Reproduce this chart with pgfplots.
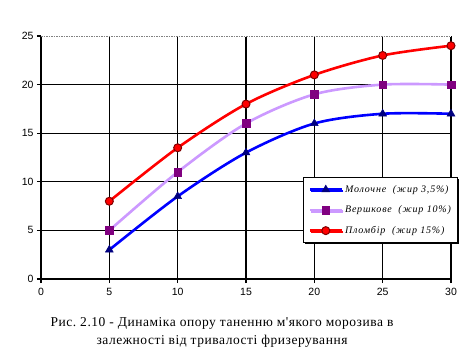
\documentclass[border=0pt]{standalone}
\usepackage{fontspec}
\setmainfont{Liberation Serif}
\newfontfamily\ticksfont{Liberation Sans}
\newfontfamily\legfont[LetterSpace=8]{Liberation Serif}
\newfontfamily\capfont[LetterSpace=4]{Liberation Serif}
\usepackage{pgfplots}
\pgfplotsset{compat=1.18}
\usetikzlibrary{shadows}
\definecolor{milkline}{RGB}{0,0,255}
\definecolor{milkmark}{RGB}{0,0,128}
\definecolor{crline}{RGB}{204,153,255}
\definecolor{crmark}{RGB}{128,0,128}
\definecolor{plline}{RGB}{255,0,0}
\definecolor{pledge}{RGB}{128,0,0}
\begin{document}
\begin{tikzpicture}[x=1pt,y=1pt]
\path[use as bounding box, fill=white] (0,0) rectangle (476,360);
\begin{axis}[
  at={(41pt,81pt)}, anchor=south west,
  scale only axis, width=410pt, height=243pt,
  xmin=0, xmax=30, ymin=0, ymax=25,
  xtick={0,5,...,30}, ytick={0,5,...,25},
  axis x line*=bottom, axis y line*=left,
  axis line style={black, line width=1.4pt, -},
  grid=major,
  major grid style={black, line width=1.3pt},
  tick align=outside, major tick length=4pt,
  tick style={black, line width=1.2pt},
  xtick pos=bottom, ytick pos=left,
  ticklabel style={font=\ticksfont\fontsize{10.5}{12}\selectfont},
  /pgf/number format/assume math mode=true,
  xticklabel style={yshift=-2pt},
  legend style={at={(0.639,0.42)}, anchor=north west, draw=black, line width=1pt,
    font=\legfont\itshape\fontsize{10}{12}\selectfont, row sep=8pt,
    inner xsep=5pt, inner ysep=6pt, drop shadow={shadow xshift=1.5pt, shadow yshift=-1.5pt, fill=black, opacity=1}, fill=white},
  legend cell align=left,
  legend image code/.code={
    \draw[#1, mark=none] (0pt,0pt) -- (32pt,0pt);
    \draw[#1, only marks] plot coordinates {(16pt,0pt)};
  },
  clip=false,
]
\draw[white, line width=1.2pt] (axis cs:0,25) -- (axis cs:30,25);
\draw[gray, dashed, line width=1pt, dash pattern=on 1.5pt off 1pt] (axis cs:0,25) -- (axis cs:30,25);
\addplot[milkline, line width=2.6pt, smooth, mark=triangle*, mark size=4.5pt,
  mark options={fill=milkmark, draw=milkmark, line width=0.5pt}]
  coordinates {(5,3) (10,8.5) (15,13) (20,16) (25,17) (30,17)};
\addlegendentry{Молочне\ \ (жир 3,5\%)}
\addplot[crline, line width=2.6pt, smooth, mark=square*, mark size=3.8pt,
  mark options={fill=crmark, draw=crmark, line width=0.5pt}]
  coordinates {(5,5) (10,11) (15,16) (20,19) (25,20) (30,20)};
\addlegendentry{Вершкове\ \ (жир 10\%)}
\addplot[plline, line width=2.6pt, smooth, mark=*, mark size=4pt,
  mark options={fill=plline, draw=pledge, line width=1pt}]
  coordinates {(5,8) (10,13.5) (15,18) (20,21) (25,23) (30,24)};
\addlegendentry{Пломбір\ \ (жир 15\%)}
\end{axis}
\node[align=center, font=\capfont\fontsize{13.5}{18}\selectfont] at (222,28)
  {Рис.\ 2.10 - Динаміка опору таненню м'якого морозива в\\ залежності від тривалості фризерування};
\end{tikzpicture}
\end{document}
